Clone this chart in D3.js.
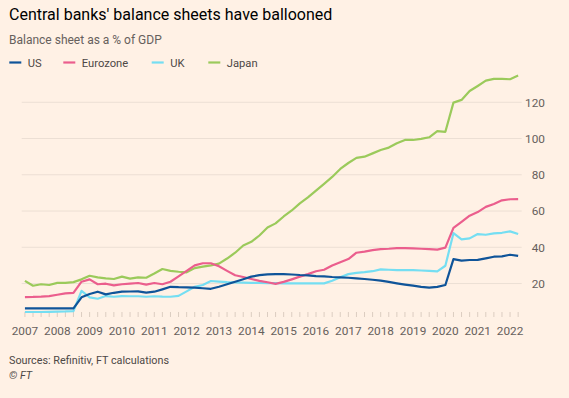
<!DOCTYPE html>
<html>
<head>
<meta charset="utf-8">
<script src="https://cdn.jsdelivr.net/npm/d3@7"></script>
<style>
  body { margin: 0; background: #fff1e5; }
  svg { display: block; font-family: Roboto, "Open Sans", sans-serif; }
</style>
</head>
<body>
<div id="chart"></div>
<script>
// quarterly, 2007 Q1 .. 2022 Q2
let startYear = 2007;
let seriesNames = ["US", "Eurozone", "UK", "Japan"];
let seriesColors = ["#0f5499", "#eb5e8d", "#75def2", "#9bca5b"];

let usValues = [
  6.3, 6.3, 6.3, 6.3,  6.3, 6.3, 6.3, 12.4,  14.2, 15.5, 14.0, 14.9,
  15.5, 15.6, 15.7, 15.0,  15.5, 16.8, 18.2, 18.0,  17.9, 17.7, 17.4, 17.1,
  18.2, 19.6, 21.0, 22.4,  23.8, 24.6, 25.1, 25.2,  25.2, 25.0, 24.7, 24.5,
  24.1, 23.9, 23.6, 23.4,  23.2, 22.9, 22.5, 22.1,  21.6, 20.9, 20.1, 19.4,
  18.8, 18.2, 17.7, 18.2,  19.2, 33.5, 32.6, 33.0,  33.1, 33.9, 34.8, 35.0,
  35.9, 35.3
];
let eurozoneValues = [
  12.5, 12.6, 12.8, 13.1,  13.8, 14.6, 14.8, 21.0,  22.3, 19.6, 19.9, 19.0,
  19.6, 20.0, 20.3, 19.4,  20.3, 19.6, 21.0, 24.0,  27.0, 30.0, 31.2, 31.2,
  29.5, 27.0, 24.6, 23.6,  22.5, 21.5, 20.7, 19.8,  20.9, 22.3, 23.8, 25.2,
  26.8, 27.6, 30.0, 31.8,  33.5, 37.0, 37.6, 38.4,  39.0, 39.2, 39.5, 39.5,
  39.4, 39.2, 39.0, 38.7,  39.8, 50.7, 54.0, 57.4,  59.4, 62.3, 63.9, 65.9,
  66.5, 66.6
];
let ukValues = [
  4.3, 4.3, 4.3, 4.4,  4.5, 4.6, 4.8, 16.0,  12.4, 11.6, 13.1, 12.7,
  13.1, 13.0, 13.0, 12.7,  13.0, 12.8, 12.7, 13.2,  15.7, 18.2, 19.2, 21.4,
  21.1, 20.8, 20.6, 20.5,  20.4, 20.3, 20.2, 20.2,  20.1, 20.1, 20.1, 20.1,
  20.1, 20.1, 21.5, 23.5,  25.2, 25.9, 26.3, 26.8,  27.8, 27.6, 27.4, 27.4,
  27.4, 27.2, 27.0, 26.7,  29.8, 47.8, 44.4, 44.9,  47.3, 46.9, 47.7, 48.0,
  48.8, 47.3
];
let japanValues = [
  21.5, 18.8, 19.6, 19.2,  20.4, 20.4, 20.8, 22.3,  24.3, 23.4, 22.9, 22.5,
  23.8, 22.7, 23.4, 23.2,  25.5, 28.0, 27.0, 26.5,  26.2, 28.5, 29.3, 30.0,
  31.0, 33.8, 37.0, 41.0,  43.0, 46.5, 50.9, 53.2,  57.0, 60.3, 64.2, 67.5,
  71.3, 75.0, 78.8, 83.2,  86.5, 89.3, 90.0, 91.8,  93.7, 95.0, 97.4, 99.2,
  99.2, 99.8, 100.7, 104.1,  103.7, 119.8, 121.3, 126.2,  129.0, 131.9, 132.9, 132.9,
  132.7, 134.7
];
let yTicks = [20, 40, 60, 80, 100, 120];
let xYears = d3.range(2007, 2023);

let width = 569,
    height = 398;

let svg = d3.select("#chart").append("svg")
    .attr("width", width)
    .attr("height", height)
    .style("background", "#fff1e5");

let x = d3.scaleLinear()
    .domain([2006.9, 2022.36])
    .range([21.7, 521.7]);

let y = d3.scaleLinear()
    .domain([4.3, 137.8])
    .range([312, 70]);

// titles
svg.append("text")
    .attr("x", 9).attr("y", 19.5)
    .style("font-size", "16px")
    .style("fill", "#000")
    .text("Central banks' balance sheets have ballooned");

svg.append("text")
    .attr("x", 9).attr("y", 43.5)
    .style("font-size", "12px")
    .style("fill", "#66605c")
    .text("Balance sheet as a % of GDP");

// legend
let legendX = [9.3, 63.3, 151.7, 208.3];
let legend = svg.selectAll(".legend")
    .data(seriesNames)
    .enter().append("g")
    .attr("class", "legend")
    .attr("transform", (d, i) => "translate(" + legendX[i] + ",62.5)");

legend.append("line")
    .attr("x1", 0).attr("x2", 12)
    .attr("stroke", (d, i) => seriesColors[i])
    .attr("stroke-width", 2.2);

legend.append("text")
    .attr("x", 18.5).attr("y", 4.2)
    .style("font-size", "11.2px")
    .style("fill", "#4d4845")
    .text(d => d);

// grid + y labels
svg.selectAll(".grid")
    .data(yTicks)
    .enter().append("line")
    .attr("class", "grid")
    .attr("x1", 21.7).attr("x2", 521.7)
    .attr("y1", d => y(d)).attr("y2", d => y(d))
    .attr("stroke", "#ecdfd4")
    .attr("stroke-width", 1);

svg.selectAll(".ylab")
    .data(yTicks)
    .enter().append("text")
    .attr("class", "ylab")
    .attr("x", 545)
    .attr("y", d => y(d) + 4.3)
    .attr("text-anchor", "end")
    .style("font-size", "11.8px")
    .style("fill", "#66605c")
    .text(d => d);

// quarter ticks along the bottom
let quarters = d3.range(0, usValues.length).map(i => startYear + i / 4);
svg.selectAll(".qtick")
    .data(quarters)
    .enter().append("line")
    .attr("class", "qtick")
    .attr("x1", d => x(d)).attr("x2", d => x(d))
    .attr("y1", 312).attr("y2", 317)
    .attr("stroke", "#dccdc1")
    .attr("stroke-width", 1);

svg.selectAll(".xlab")
    .data(xYears)
    .enter().append("text")
    .attr("class", "xlab")
    .attr("x", d => x(d))
    .attr("y", 335)
    .attr("text-anchor", "middle")
    .style("font-size", "11.8px")
    .style("fill", "#66605c")
    .text(d => d);

// lines
let allSeries = [usValues, eurozoneValues, ukValues, japanValues];
let line = d3.line()
    .x((d, i) => x(startYear + i / 4))
    .y(d => y(d));

// draw order: UK under US like the original
let order = [2, 3, 1, 0];
order.forEach(k => {
  svg.append("path")
    .datum(allSeries[k])
    .attr("d", line)
    .attr("fill", "none")
    .attr("stroke", seriesColors[k])
    .attr("stroke-width", 2.2)
    .attr("stroke-linejoin", "round");
});

// footer
svg.append("text")
    .attr("x", 9).attr("y", 364)
    .style("font-size", "10.8px")
    .style("fill", "#4d4845")
    .text("Sources: Refinitiv, FT calculations");

svg.append("text")
    .attr("x", 9).attr("y", 379)
    .style("font-size", "10.8px")
    .style("font-style", "italic")
    .style("fill", "#4d4845")
    .text("© FT");
</script>
</body>
</html>
